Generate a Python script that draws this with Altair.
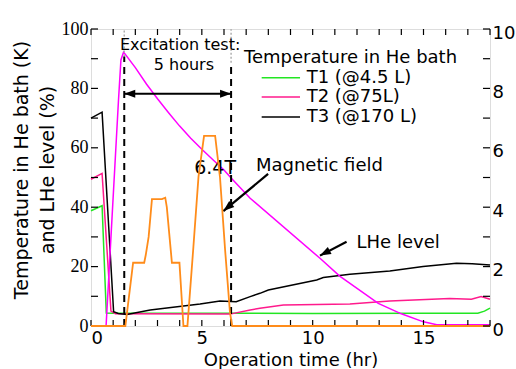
import altair as alt
import pandas as pd

# ---------------- data ----------------
t1_t = [0, 0.5, 0.69, 1.0, 6.3, 10, 15, 17.45, 17.75, 18]
t1_v = [38.8, 40.5, 4.4, 4.3, 4.3, 4.2, 4.3, 4.3, 5.0, 6.0]

t2_t = [0, 0.5, 0.9, 1.1, 6.27, 7.18, 7.62, 8.68, 11.68, 13.48, 16.18, 17.16, 17.6, 18]
t2_v = [49.4, 51.4, 5.0, 4.1, 4.0, 5.4, 6.0, 7.1, 7.4, 8.4, 9.3, 9.0, 9.9, 9.0]

t3_t = [0, 0.5, 1.02, 1.23, 1.62, 2.67, 4.92, 5.82, 6.55, 7.18, 7.62, 8.0, 10.18,
        10.48, 11.68, 13.48, 14.98, 16.49, 17.2, 18]
t3_v = [70, 72, 4.8, 4.2, 3.9, 5.4, 7.4, 8.4, 8.2, 9.9, 11.0, 12.1, 15.5,
        16.3, 17.4, 18.5, 20.0, 21.1, 21.0, 20.5]

lhe_t = [0, 0.68, 1.24, 1.35, 1.47, 2.0, 2.5, 3.0, 3.5, 4.0, 4.5, 5.0, 5.5, 6.0, 6.3, 7.18,
         10.33, 11.22, 12.96, 14.0, 15.0, 15.6, 18]
lhe_v = [0, 0, 76, 89.6, 92.2, 87.0, 81.5, 76.5, 71.8, 67.3, 63.2, 59.5, 56.0, 52.5, 50.0, 43.0,
         22.8, 16.8, 7.6, 4.1, 1.4, 0.4, 0.4]

mag_t = [0, 1.55, 1.9, 2.4, 2.47, 2.6, 2.75, 3.2, 3.35, 3.42, 3.65, 3.99, 4.17, 4.35,
         4.62, 4.85, 5.1, 5.6, 5.82, 6.05, 6.27, 6.37, 18]
mag_v = [0, 0, 2.13, 2.13, 2.39, 3.0, 4.27, 4.27, 4.32, 4.0, 2.13, 2.13, 0, 0,
         2.67, 5.03, 6.4, 6.4, 5.0, 2.56, 0.45, 0, 0]

series_names = ["T1 (@4.5 L)", "T2 (@75L)", "T3 (@170 L)"]
series_colors = ["#22e622", "#ff1a8c", "#000000"]
legend_rows_y = [83.6, 77.1, 70.4]

x_ticks_major = [0, 5, 10, 15]
yl_ticks_major = [0, 20, 40, 60, 80, 100]
yr_ticks_major = [0, 2, 4, 6, 8, 10]
x_ticks_all = list(range(0, 19))
yl_ticks_all = list(range(0, 101, 10))
yr_ticks_all = list(range(0, 11))

dash_x = [1.5, 6.32]
dash_top = [90.7, 88.6]

# ---------------- layout ----------------
W, H = 399, 297
FONT = "DejaVu Sans"
SERIF = "Liberation Serif, Times New Roman, serif"

x_scale = alt.Scale(domain=[0, 18], nice=False, zero=False)
yl_scale = alt.Scale(domain=[0, 100], nice=False)
yr_scale = alt.Scale(domain=[0, 10], nice=False)
col_scale = alt.Scale(domain=series_names, range=series_colors)

x_axis = alt.Axis(
    values=x_ticks_major, title="Operation time (hr)", tickSize=0, domain=False, grid=False,
    labelFont=FONT, labelFontSize=18, labelPadding=3, labelColor="black",
    titleFont=FONT, titleFontSize=18, titleFontWeight="normal", titleColor="black",
    titleX=W / 2, titleY=39, titleAlign="center", titleBaseline="alphabetic")

yl_axis = alt.Axis(
    values=yl_ticks_major, orient="left", tickSize=0, domain=False, grid=False,
    title=["Temperature in He bath (K)", "and LHe level (%)"],
    labelFont=SERIF, labelFontSize=18, labelPadding=3, labelColor="black",
    titleFont=FONT, titleFontSize=19, titleFontWeight="normal", titleColor="black",
    titleAngle=270, titleX=-64, titleY=140.5, titleAlign="center",
    titleBaseline="alphabetic", titleLineHeight=26)

yr_axis = alt.Axis(
    values=yr_ticks_major, orient="right", tickSize=0, domain=False, grid=False, title="",
    labelFont=FONT, labelFontSize=18, labelPadding=2, labelOffset=4, labelColor="black")


def xe(field="x"):
    return alt.X(f"{field}:Q", scale=x_scale, axis=x_axis)


def yl(field="y"):
    return alt.Y(f"{field}:Q", scale=yl_scale, axis=yl_axis)


def yr(field="y"):
    return alt.Y(f"{field}:Q", scale=yr_scale, axis=yr_axis)


# temperature lines
rows = []
for name, ts, vs in zip(series_names, [t1_t, t2_t, t3_t], [t1_v, t2_v, t3_v]):
    for i, (t, v) in enumerate(zip(ts, vs)):
        rows.append({"x": t, "y": v, "series": name, "o": i})
temp_df = pd.DataFrame(rows)

temps = alt.Chart(temp_df).mark_line(strokeWidth=1.5).encode(
    x=xe(), y=yl(), order="o:Q",
    color=alt.Color("series:N", scale=col_scale, legend=None))

lhe = alt.Chart(pd.DataFrame({"x": lhe_t, "y": lhe_v})).mark_line(
    strokeWidth=1.5, color="#ff00ff").encode(x=xe(), y=yl())

# legend (drawn as marks)
leg_df = pd.DataFrame({"series": series_names, "y": legend_rows_y,
                       "x": [7.70] * 3, "x2": [9.43] * 3, "xt": [9.73] * 3})
leg_lines = alt.Chart(leg_df).mark_rule(strokeWidth=1.5).encode(
    x=xe(), x2="x2:Q", y=yl(),
    color=alt.Color("series:N", scale=col_scale, legend=None))
leg_text = alt.Chart(leg_df).mark_text(
    font=FONT, fontSize=18, align="left", baseline="middle", color="black").encode(
    x=xe("xt"), y=yl(), text="series:N")

# axis ticks (inward)
xt_df = pd.DataFrame({"x": x_ticks_all})
xt_bottom = alt.Chart(xt_df).mark_rule(color="black", strokeWidth=1.2).encode(
    x=xe(), y=alt.value(H - 6), y2=alt.value(H))
xt_top = alt.Chart(xt_df).mark_rule(color="black", strokeWidth=1.2).encode(
    x=xe(), y=alt.value(0), y2=alt.value(6))
ylt = alt.Chart(pd.DataFrame({"y": yl_ticks_all})).mark_rule(color="black", strokeWidth=1.2).encode(
    y=yl(), x=alt.value(0), x2=alt.value(7))
yrt = alt.Chart(pd.DataFrame({"y": yr_ticks_all})).mark_rule(color="black", strokeWidth=1.2).encode(
    y=yr(), x=alt.value(W - 7), x2=alt.value(W))

# dashed excitation window
dash_df = pd.DataFrame({"x": dash_x, "y0": [0, 0], "y1": dash_top, "top": [100, 100]})
dashes = alt.Chart(dash_df).mark_rule(color="black", strokeWidth=2, strokeDash=[7, 5]).encode(
    x=xe(), y=yl("y0"), y2="y1:Q")
dashes_grey = alt.Chart(dash_df).mark_rule(color="#b0b0b0", strokeWidth=1.5, strokeDash=[2, 2]).encode(
    x=xe(), y=yl("y1"), y2="top:Q")

ARROW = "M0,0L-0.8,2.2L0.8,2.2Z"

# double arrow
darrow = alt.Chart(pd.DataFrame({"x": [1.5], "x2": [6.32], "y": [78.2]})).mark_rule(
    color="black", strokeWidth=2.2).encode(x=xe(), x2="x2:Q", y=yl())
dhead_l = alt.Chart(pd.DataFrame({"x": [1.5], "y": [78.2]})).mark_point(
    shape=ARROW, filled=True, size=100, angle=270, color="black", opacity=1).encode(x=xe(), y=yl())
dhead_r = alt.Chart(pd.DataFrame({"x": [6.32], "y": [78.2]})).mark_point(
    shape=ARROW, filled=True, size=100, angle=90, color="black", opacity=1).encode(x=xe(), y=yl())

# magnetic field arrow
marrow = alt.Chart(pd.DataFrame({"x": [7.99], "x2": [5.97], "y": [51.2], "y2": [38.7]})).mark_rule(
    color="black", strokeWidth=2.2).encode(x=xe(), x2="x2:Q", y=yl(), y2="y2:Q")
mhead = alt.Chart(pd.DataFrame({"x": [5.97], "y": [38.7]})).mark_point(
    shape=ARROW, filled=True, size=100, angle=230, color="black", opacity=1).encode(x=xe(), y=yl())

# LHe arrow
larrow = alt.Chart(pd.DataFrame({"x": [11.53], "x2": [10.33], "y": [28.4], "y2": [23.7]})).mark_rule(
    color="black", strokeWidth=2.2).encode(x=xe(), x2="x2:Q", y=yl(), y2="y2:Q")
lhead = alt.Chart(pd.DataFrame({"x": [10.33], "y": [23.7]})).mark_point(
    shape=ARROW, filled=True, size=100, angle=242, color="black", opacity=1).encode(x=xe(), y=yl())


def label(txt, x, y, size, align="center"):
    return alt.Chart(pd.DataFrame({"x": [x], "y": [y], "t": [txt]})).mark_text(
        font=FONT, fontSize=size, align=align, baseline="alphabetic", color="black").encode(
        x=xe(), y=yl(), text="t:N")


texts = [
    label("Excitation test:", 4.02, 93.0, 16),
    label("5 hours", 4.19, 86.2, 16),
    label("6.4T", 5.6, 51.2, 19),
    label("Magnetic field", 7.44, 52.3, 18, "left"),
    label("LHe level", 11.98, 26.2, 18, "left"),
    label("Temperature in He bath", 6.9, 88.5, 18, "left"),
]

left = alt.layer(temps, lhe, xt_bottom, xt_top, ylt, dashes_grey, dashes, darrow, dhead_l, dhead_r,
                 marrow, mhead, larrow, lhead, leg_lines, leg_text, *texts)

mag = alt.Chart(pd.DataFrame({"x": mag_t, "y": mag_v})).mark_line(
    strokeWidth=1.8, color="#ff8c1a").encode(x=xe(), y=yr())
right = alt.layer(mag, yrt)

chart = alt.layer(left, right).resolve_scale(y="independent").properties(
    width=W, height=H,
    autosize=alt.AutoSizeParams(type="none"),
    padding={"left": 91, "top": 29, "right": 26, "bottom": 43},
).configure_view(stroke="black", strokeWidth=1.5).configure(background="white")

chart.save("out.html", embed_options={"renderer": "svg", "actions": False})
